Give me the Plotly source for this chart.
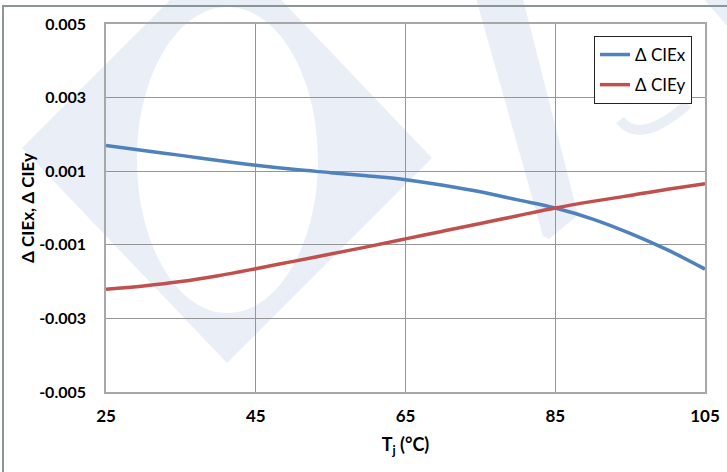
import plotly.graph_objects as go

# ---- data ----
temps = [25, 30, 35, 40, 45, 50, 55, 60, 65, 70, 75, 80, 85, 90, 95, 100, 105]
d_ciex = [0.00170, 0.00156, 0.00143, 0.00129, 0.00116, 0.00105, 0.00096, 0.00087, 0.00077,
          0.00062, 0.00044, 0.00022, 0.00000, -0.00030, -0.00069, -0.00114, -0.00166]
d_ciey = [-0.00221, -0.00212, -0.00200, -0.00184, -0.00165, -0.00145, -0.00125, -0.00105, -0.00084,
          -0.00063, -0.00042, -0.00021, 0.00000, 0.00018, 0.00034, 0.00051, 0.00066]
x_ticks = [25, 45, 65, 85, 105]
y_ticks = [-0.005, -0.003, -0.001, 0.001, 0.003, 0.005]
series_names = ["\u0394 CIEx", "\u0394 CIEy"]

# ---- layout geometry ----
W, H = 727, 472
L, R, T, B = 106, 22, 24, 80
PW, PH = W - L - R, H - T - B


def px(x):
    return (x - L) / PW


def py(y):
    return (H - B - y) / PH


def path(points, close=True):
    s = "M " + " L ".join(f"{px(a):.5f},{py(b):.5f}" for a, b in points)
    return s + (" Z" if close else "")


def ellipse_path(cx, cy, rx, ry):
    k = 0.5523
    pts = [
        ("M", [(cx + rx, cy)]),
        ("C", [(cx + rx, cy + k * ry), (cx + k * rx, cy + ry), (cx, cy + ry)]),
        ("C", [(cx - k * rx, cy + ry), (cx - rx, cy + k * ry), (cx - rx, cy)]),
        ("C", [(cx - rx, cy - k * ry), (cx - k * rx, cy - ry), (cx, cy - ry)]),
        ("C", [(cx + k * rx, cy - ry), (cx + rx, cy - k * ry), (cx + rx, cy)]),
    ]
    out = []
    for cmd, ps in pts:
        out.append(cmd + " " + " ".join(f"{px(a):.5f},{py(b):.5f}" for a, b in ps))
    return " ".join(out) + " Z"


WM = "#eaeff7"
FONT = "Lato, 'Open Sans', sans-serif"

shapes = []
# watermark: diamond with elliptical hole ("O")
diamond = path([(22, 148), (227, 363), (432, 158), (227, -57)])
shapes.append(dict(type="path", xref="paper", yref="paper",
                   path=diamond + " " + ellipse_path(227.5, 160, 90.5, 153),
                   fillrule="evenodd", fillcolor=WM, line=dict(width=0), layer="below"))
# watermark: V stroke
shapes.append(dict(type="path", xref="paper", yref="paper",
                   path=path([(475, -5), (522, -5), (578, 215), (549, 239), (543, 236)]),
                   fillcolor=WM, line=dict(width=0), layer="below"))
# watermark: top-right stroke
shapes.append(dict(type="path", xref="paper", yref="paper",
                   path=path([(700, -5), (735, -5), (735, 35)]),
                   fillcolor=WM, line=dict(width=0), layer="below"))
# watermark: "e" arc
shapes.append(dict(type="path", xref="paper", yref="paper",
                   path=f"M {px(620):.5f},{py(120):.5f} Q {px(640):.5f},{py(146):.5f} {px(688):.5f},{py(104):.5f}",
                   line=dict(color=WM, width=10), layer="below"))
# outer frame
shapes.append(dict(type="rect", xref="paper", yref="paper",
                   x0=px(3), y0=py(6), x1=px(760), y1=py(500),
                   line=dict(color="#8a9696", width=2), layer="above"))

fig = go.Figure()
fig.add_trace(go.Scatter(x=temps, y=d_ciex, mode="lines", name=series_names[0], legendgroup="a",
                         line=dict(color="#4f81bd", width=3.5, shape="spline", smoothing=1.0)))
fig.add_trace(go.Scatter(x=temps, y=d_ciey, mode="lines", name=series_names[1], legendgroup="b",
                         line=dict(color="#c0504d", width=3.5, shape="spline", smoothing=1.0)))

fig.update_layout(
    width=W, height=H,
    margin=dict(l=L, r=R, t=T, b=B, autoexpand=False),
    paper_bgcolor="white",
    plot_bgcolor="rgba(0,0,0,0)",
    font=dict(family=FONT, color="black"),
    shapes=shapes,
    showlegend=True,
    legend=dict(x=px(692), y=py(36), xanchor="right", yanchor="top",
                bgcolor="white", bordercolor="#222222", borderwidth=1,
                font=dict(size=17, family=FONT, color="black"),
                tracegroupgap=5, itemwidth=30, traceorder="grouped"),
    xaxis=dict(range=[25, 105], tickvals=x_ticks, ticktext=[str(v) for v in x_ticks],
               automargin=False,
               showgrid=True, gridcolor="#959595", gridwidth=1,
               showline=True, linecolor="#a8a8a8", linewidth=1.5, mirror=True,
               zeroline=False, ticks="", ticklabelstandoff=8,
               tickfont=dict(size=17, family=FONT, weight="bold"),
               title=dict(text="T<sub>j</sub> (\u00b0C)", standoff=13,
                          font=dict(size=18, family=FONT, weight="bold"))),
    yaxis=dict(range=[-0.005, 0.005], tickvals=y_ticks,
               ticktext=[f"{v:.3f}" for v in y_ticks],
               automargin=False,
               showgrid=True, gridcolor="#959595", gridwidth=1,
               showline=True, linecolor="#a8a8a8", linewidth=1.5, mirror=True,
               zeroline=False, ticks="", ticklabelstandoff=15,
               tickfont=dict(size=16, family=FONT, weight="bold"),
               title=dict(text="\u0394 CIEx, \u0394 CIEy", standoff=0,
                          font=dict(size=17, family=FONT, weight="bold"))),
)

fig.write_html("out.html", config={"displayModeBar": False},
               post_script="document.body.style.margin='0';document.body.style.padding='0';")
